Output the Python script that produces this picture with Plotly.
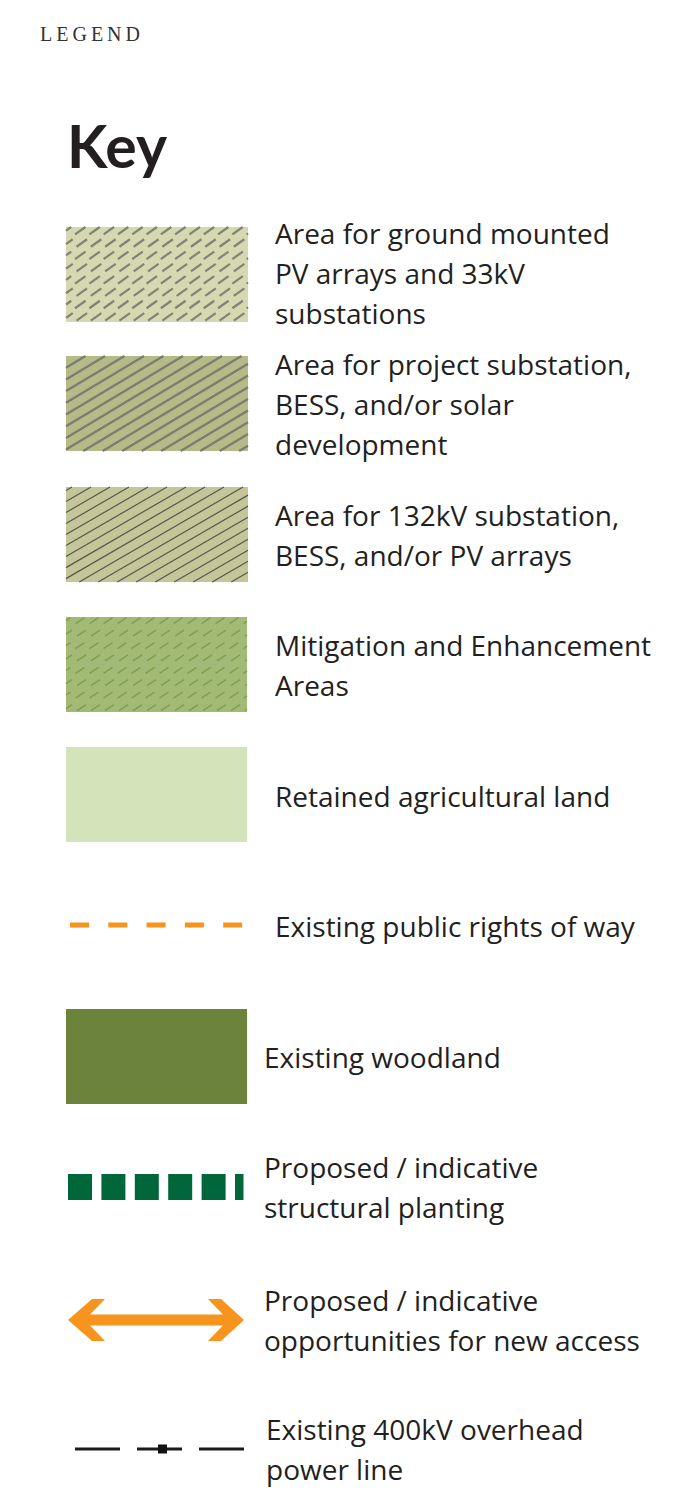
import numpy as np
import plotly.graph_objects as go

# ---------------- data ----------------
labels = [
    ["Area for ground mounted", "PV arrays and 33kV", "substations"],
    ["Area for project substation,", "BESS, and/or solar", "development"],
    ["Area for 132kV substation,", "BESS, and/or PV arrays"],
    ["Mitigation and Enhancement", "Areas"],
    ["Retained agricultural land"],
    ["Existing public rights of way"],
    ["Existing woodland"],
    ["Proposed / indicative", "structural planting"],
    ["Proposed / indicative", "opportunities for new access"],
    ["Existing 400kV overhead", "power line"],
]
label_y = [233, 364, 515, 645, 796, 926, 1057, 1167, 1300, 1429]
label_x = [275, 275, 275, 275, 275, 275, 264, 264, 264, 266]

swatch_fill = ["#d5d8b0", "#b6b988", "#c4c69a", "#a3ba77", "#d3e4bb", None, "#6b833a"]
swatch_y = [(227, 322), (356, 451), (487, 582), (617, 712), (747, 842), None, (1009, 1104)]
swatch_x = (66, 248)

ORANGE = "#f7941d"
PLANT_GREEN = "#00673a"
TEXT = "#231f20"
FONT = "Open Sans"

W, H = 698, 1507

fig = go.Figure()


def clip_seg(p0, p1, rect):
    x0, y0, x1, y1 = rect
    (ax, ay), (bx, by) = p0, p1
    dx, dy = bx - ax, by - ay
    t0, t1 = 0.0, 1.0
    for p, q in ((-dx, ax - x0), (dx, x1 - ax), (-dy, ay - y0), (dy, y1 - ay)):
        if p == 0:
            if q < 0:
                return None
        else:
            t = q / p
            if p < 0:
                t0 = max(t0, t)
            else:
                t1 = min(t1, t)
    if t0 >= t1:
        return None
    return (ax + t0 * dx, ay + t0 * dy), (ax + t1 * dx, ay + t1 * dy)


def add_segments(segs, color, width):
    xs, ys = [], []
    for a, b in segs:
        xs += [a[0], b[0], None]
        ys += [a[1], b[1], None]
    fig.add_trace(go.Scatter(x=xs, y=ys, mode="lines", line=dict(color=color, width=width),
                             hoverinfo="skip", showlegend=False))


def diag_lines(rect, spacing, slope, offset=0.0):
    x0, y0, x1, y1 = rect
    segs = []
    h = y1 - y0
    c = x0 - h / slope - spacing + offset
    while c < x1 + spacing:
        a = (c, y1)
        b = (c + (h + 40) / slope, y1 - (h + 40))
        s = clip_seg(a, b, rect)
        if s:
            segs.append(s)
        c += spacing
    return segs


def dash_grid(rect, dx, dy, lx, ly, shift=0.0):
    x0, y0, x1, y1 = rect
    segs = []
    j = 0
    y = y0 + dy * 0.3
    while y < y1 + dy:
        x = x0 - dx + (j % 2) * shift
        while x < x1 + dx:
            s = clip_seg((x - lx / 2, y + ly / 2), (x + lx / 2, y - ly / 2), rect)
            if s:
                segs.append(s)
            x += dx
        y += dy
        j += 1
    return segs


# swatches
for i, (fc, yy) in enumerate(zip(swatch_fill, swatch_y)):
    if fc is None:
        continue
    fig.add_shape(type="rect", x0=swatch_x[0], x1=swatch_x[1] - (1 if i >= 3 else 0),
                  y0=yy[0], y1=yy[1], fillcolor=fc, line=dict(width=0), layer="below")

r = lambda i: (swatch_x[0], swatch_y[i][0], swatch_x[1] - (1 if i >= 3 else 0), swatch_y[i][1])
add_segments(dash_grid(r(0), 14.3, 12.3, 10.5, 7.5, 1.5), "#818374", 2.2)
add_segments(diag_lines(r(1), 19.5, 0.6), "#7b7e6c", 2.3)
add_segments(diag_lines(r(2), 19, 0.58, 6), "#56574a", 1.2)
add_segments(dash_grid(r(3), 14.0, 12.4, 9, 6, 1.5), "#7ba24b", 1.5)

# public rights of way
fig.add_trace(go.Scatter(x=[70, 243], y=[925, 925], mode="lines",
                         line=dict(color=ORANGE, width=5, dash="19px,19.3px"),
                         hoverinfo="skip", showlegend=False))
# structural planting
fig.add_trace(go.Scatter(x=[68, 243.5], y=[1187, 1187], mode="lines",
                         line=dict(color=PLANT_GREEN, width=26, dash="24px,9.4px"),
                         hoverinfo="skip", showlegend=False))
# double arrow
ax = [68, 92, 105, 90, 223, 208, 221, 244, 221, 208, 223, 90, 105, 92]
ay = [1320, 1299, 1299, 1314.5, 1314.5, 1299, 1299, 1320, 1341, 1341, 1325.5, 1325.5, 1341, 1341]
path = "M " + " L ".join(f"{a},{b}" for a, b in zip(ax, ay)) + " Z"
fig.add_shape(type="path", path=path, fillcolor=ORANGE, line=dict(width=0))
# power line
fig.add_trace(go.Scatter(x=[75, 120, None, 137, 182, None, 199, 244],
                         y=[1449, 1449, None, 1449, 1449, None, 1449, 1449], mode="lines",
                         line=dict(color="#1a1a1a", width=3), hoverinfo="skip", showlegend=False))
fig.add_shape(type="rect", x0=158, x1=167, y0=1444.5, y1=1453.5, fillcolor="#111111", line=dict(width=0))

# text
for lines, x, y in zip(labels, label_x, label_y):
    for k, t in enumerate(lines):
        fig.add_annotation(x=x - 2, y=y + 40 * k, text=t, showarrow=False, xanchor="left",
                           yanchor="middle", font=dict(family=FONT, size=28, color=TEXT))

fig.add_annotation(x=38, y=34, text="\u2009".join("LEGEND"), showarrow=False, xanchor="left",
                   yanchor="middle", font=dict(family="Liberation Serif", size=20, color="#333333"))
fig.add_annotation(x=65, y=145, text="<b>Key</b>", showarrow=False, xanchor="left",
                   yanchor="middle", font=dict(family="Lato", size=59, color=TEXT))

fig.update_layout(width=W, height=H, margin=dict(l=0, r=0, t=0, b=0),
                  paper_bgcolor="white", plot_bgcolor="white",
                  xaxis=dict(range=[0, W], visible=False, fixedrange=True),
                  yaxis=dict(range=[H, 0], visible=False, fixedrange=True))
fig.write_html("out.html", config=dict(displayModeBar=False),
               post_script="document.body.style.margin='0px';")
